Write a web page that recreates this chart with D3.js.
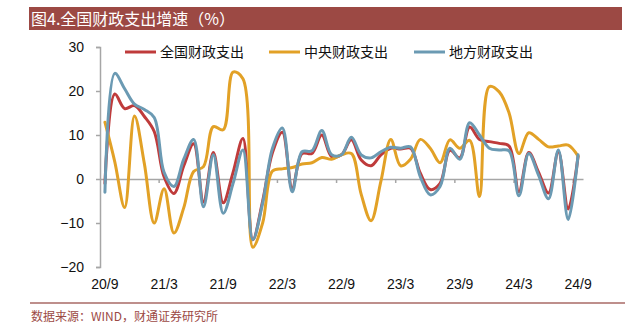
<!DOCTYPE html>
<html><head><meta charset="utf-8">
<script src="https://cdn.jsdelivr.net/npm/d3@7"></script>
<style>
html,body{margin:0;padding:0;background:#fff;}
svg{display:block;}
</style></head>
<body>
<svg id="chart" width="638" height="331"></svg>
<script>
const months = ["20/9","20/10","20/11","20/12","21/1","21/2","21/3","21/4","21/5","21/6","21/7","21/8","21/9","21/10","21/11","21/12","22/1","22/2","22/3","22/4","22/5","22/6","22/7","22/8","22/9","22/10","22/11","22/12","23/1","23/2","23/3","23/4","23/5","23/6","23/7","23/8","23/9","23/10","23/11","23/12","24/1","24/2","24/3","24/4","24/5","24/6","24/7","24/8","24/9"];
const tickLabels = ["20/9","21/3","21/9","22/3","22/9","23/3","23/9","24/3","24/9"];
const seriesNames = ["全国财政支出","中央财政支出","地方财政支出"];
const national = [-1,19.3,16,16.7,14.2,10.8,0.5,-3.3,3,8,-5.2,6,-5.4,1.5,9.2,-13.8,-5,6,10.6,-2.1,5.8,5.8,10,5.1,5.5,8.9,4.3,3.0,5.5,7.0,6.8,7.0,1.3,-2.4,-1,6.5,4.8,11.8,9.0,8.5,8.1,7.5,-2.9,6,1.5,-3.2,6.2,-6.8,5.1];
const central = [12.9,3.9,-6.5,14.3,3.5,-10,-2.2,-12.3,-6.5,1.7,2.8,11.9,11.2,24.3,22.8,-15.5,-10,1.8,2.3,2.6,3.4,3.7,4.9,4.5,5.5,5.8,-3.5,-9.5,-0.5,9.0,3.0,4.5,9.0,7,3.7,8.9,7,8.8,-4,21,19.8,15,5.8,10.5,9,7.3,7.5,7.7,5.2];
const local = [-3,24,20.5,17,15.8,14,1.5,-1.7,4.5,9,-6.3,5.5,-7.8,-1,6.6,-13.8,-5.5,7,11.6,-2.9,6.2,6.4,11,5.5,5.5,9.5,5.5,4.8,6.2,7.2,7.0,7.3,0.5,-3.6,-1.7,7,4.5,12.8,10,7,6.6,6.4,-3.8,5.8,0.8,-4.5,6.6,-9.2,5.5];
const yTicks = [-20,-10,0,10,20,30];
const colors = ["#bf3b3b","#e2a126","#6b9ab3"];

const svg = d3.select("#chart");
const mLeft = 100, mRight = 583, mTop = 47, mBottom = 267;
const x = d3.scaleBand().domain(d3.range(months.length)).range([mLeft, mRight]).paddingInner(0).paddingOuter(0);
const cx = i => x(i) + x.bandwidth()/2;
const y = d3.scaleLinear().domain([-20,30]).range([mBottom, mTop]);

// title bar
svg.append("rect").attr("x",29).attr("y",7).attr("width",593).attr("height",23).attr("fill","#9c4944");
svg.append("text").attr("x",31).attr("y",25).attr("fill","#fff")
  .attr("font-family","'Noto Sans CJK SC', sans-serif").attr("font-size",16)
  .text("图4.全国财政支出增速（%）");

// y axis
const yAxis = d3.axisLeft(y).tickValues(yTicks).tickSize(4).tickPadding(12).tickFormat(d3.format("d"));
const yg = svg.append("g").attr("transform",`translate(${mLeft},0)`).call(yAxis);
yg.select(".domain").attr("stroke","#a6a6a6").attr("stroke-width",1.5);
yg.selectAll(".tick line").attr("stroke","#a6a6a6").attr("stroke-width",1.5);
yg.selectAll(".tick text").attr("font-family","'Liberation Sans', Arial, sans-serif").attr("font-size",14).attr("fill","#111");

// x axis at zero
const xAxis = d3.axisBottom(x).tickValues(d3.range(0, months.length, 6)).tickSize(0).tickFormat("");
const xg = svg.append("g").attr("transform",`translate(0,${y(0)})`).call(xAxis);
xg.select(".domain").attr("stroke","#a6a6a6").attr("stroke-width",1.5);
xg.selectAll(".tick").remove();
const bTicks = d3.range(6, months.length, 6);
svg.append("g").selectAll("line").data(bTicks).join("line")
  .attr("x1", i => x(i)).attr("x2", i => x(i))
  .attr("y1", y(0)).attr("y2", y(0)+4)
  .attr("stroke","#a6a6a6").attr("stroke-width",1.5);
svg.append("g").selectAll("text").data(tickLabels).join("text")
  .attr("x", d => cx(months.indexOf(d))).attr("y", 289)
  .attr("text-anchor","middle")
  .attr("font-family","'Liberation Sans', Arial, sans-serif").attr("font-size",14).attr("fill","#111")
  .text(d => d);

// lines
const line = d3.line().x((d,i) => cx(i)).y(d => y(d)).curve(d3.curveCatmullRom.alpha(0.5));
const data = [national, central, local];
svg.append("g").selectAll("path").data(data).join("path")
  .attr("d", d => line(d)).attr("fill","none")
  .attr("stroke", (d,i) => colors[i]).attr("stroke-width",3)
  .attr("stroke-linejoin","round").attr("stroke-linecap","round");

// legend
const legendX = [125, 269, 414];
const lg = svg.append("g").selectAll("g").data(seriesNames).join("g")
  .attr("transform",(d,i) => `translate(${legendX[i]},52)`);
lg.append("line").attr("x1",0).attr("x2",31).attr("y1",0).attr("y2",0)
  .attr("stroke",(d,i) => colors[i]).attr("stroke-width",3);
lg.append("text").attr("x",35).attr("y",5)
  .attr("font-family","'Noto Sans CJK SC', sans-serif").attr("font-size",14).attr("fill","#111")
  .text(d => d);

// footer
svg.append("line").attr("x1",30).attr("x2",625).attr("y1",303).attr("y2",303)
  .attr("stroke","#a86a66").attr("stroke-width",1.5);
svg.append("text").attr("x",31).attr("y",321).attr("fill","#9c4a45")
  .attr("font-family","'Noto Sans CJK SC', sans-serif").attr("font-size",12)
  .text("数据来源：WIND，财通证券研究所");
</script>
</body></html>
